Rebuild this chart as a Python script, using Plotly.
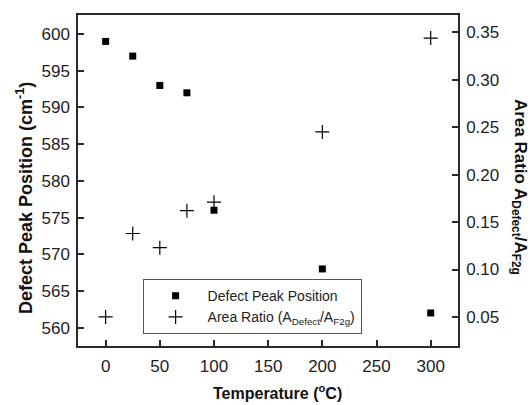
import plotly.graph_objects as go

temps_peak = [0, 25, 50, 75, 100, 200, 300]
peak_pos = [599, 597, 593, 592, 576, 568, 562]
temps_ratio = [0, 25, 50, 75, 100, 200, 300]
area_ratio = [0.050, 0.138, 0.123, 0.162, 0.171, 0.245, 0.344]

x_ticks = [0, 50, 100, 150, 200, 250, 300]
y_ticks = [560, 565, 570, 575, 580, 585, 590, 595, 600]
y2_ticks = [0.05, 0.10, 0.15, 0.20, 0.25, 0.30, 0.35]

FONT = "Liberation Sans, Arial, sans-serif"
AX = "#2a2a2a"

fig = go.Figure()
fig.add_trace(go.Scatter(
    x=temps_peak, y=peak_pos, mode="markers", name="Defect Peak Position",
    marker=dict(symbol="square", size=7, color="black"),
))
fig.add_trace(go.Scatter(
    x=temps_ratio, y=area_ratio, mode="markers", yaxis="y2",
    name="Area Ratio (A<sub>Defect</sub>/A<sub>F2g</sub>)",
    marker=dict(symbol="cross-thin", size=10, color="black",
                line=dict(width=1.2, color="black")),
))

axis_common = dict(
    showgrid=False, zeroline=False, showline=True, linecolor=AX, linewidth=1.5,
    ticks="inside", ticklen=6, tickwidth=1.5, tickcolor=AX,
    tickfont=dict(family=FONT, size=17, color="#222"),
    automargin=False,
)

fig.update_layout(
    width=530, height=405,
    margin=dict(l=78, r=72, t=15, b=59),
    paper_bgcolor="white", plot_bgcolor="white",
    font=dict(family=FONT, color="#222"),
    showlegend=True,
    legend=dict(
        x=0.17, y=0.202, xanchor="left", yanchor="top",
        bordercolor="#555", borderwidth=1, bgcolor="white",
        font=dict(family=FONT, size=14, color="#222"),
        tracegroupgap=0, itemwidth=54,
    ),
    xaxis=dict(
        range=[-25.5, 325.2], tickvals=x_ticks, mirror=True,
        ticklabelstandoff=4,
        **axis_common,
    ),
    yaxis=dict(
        range=[557.5, 602.6], tickvals=y_ticks, ticklabelstandoff=3,
        **axis_common,
    ),
    yaxis2=dict(
        range=[0.0194, 0.3683], tickvals=y2_ticks, tickformat=".2f",
        overlaying="y", side="right", ticklabelstandoff=3,
        **axis_common,
    ),
    annotations=[
        dict(
            text="<b>Temperature (<sup>o</sup>C)</b>",
            xref="paper", yref="paper", x=0.524, y=-0.139,
            xanchor="center", yanchor="middle", showarrow=False,
            font=dict(family=FONT, size=16, color="#111"),
        ),
        dict(
            text="<b>Defect Peak Position (cm<sup>-1</sup>)</b>",
            xref="paper", yref="paper", x=-0.142, y=0.447,
            xanchor="center", yanchor="middle", textangle=-90, showarrow=False,
            font=dict(family=FONT, size=18, color="#111"),
        ),
        dict(
            text="<b>Area Ratio A<sub>Defect</sub>/A<sub>F2g</sub></b>",
            xref="paper", yref="paper", x=1.161, y=0.48,
            xanchor="center", yanchor="middle", textangle=90, showarrow=False,
            font=dict(family=FONT, size=17, color="#111"),
        ),
    ],
)

fig.write_html("out.html", config={"displayModeBar": False},
               post_script="document.body.style.margin='0';")
